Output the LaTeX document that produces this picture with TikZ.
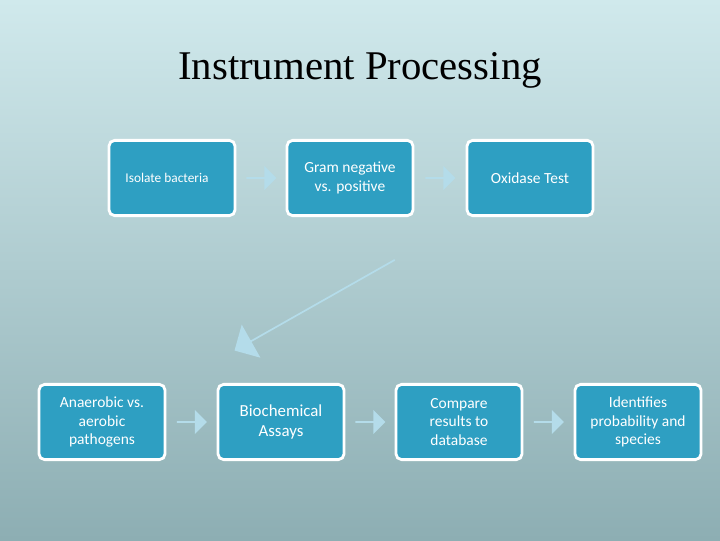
\documentclass[tikz,border=0pt]{standalone}
\usepackage{fontspec}
\setmainfont{Carlito}
\newfontfamily\titlefont{Liberation Serif}
\usetikzlibrary{shapes.arrows,calc}
\definecolor{boxblue}{HTML}{2E9FC2}
\definecolor{arrowblue}{HTML}{B4DCEA}
\definecolor{bgtop}{HTML}{D0E9EC}
\definecolor{bgbottom}{HTML}{8DAEB3}
\begin{document}
\begin{tikzpicture}[x=0.025cm, y=-0.025cm,
    stepbox/.style={
        rectangle,
        rounded corners=4pt,
        draw=white,
        line width=2pt,
        fill=boxblue,
        text=white,
        align=center,
        minimum width=3.15cm,
        minimum height=1.88cm,
        font=\fontsize{11}{13}\selectfont
    },
    flowarrow/.style={
        single arrow,
        fill=arrowblue,
        draw=none,
        minimum height=0.75cm,
        minimum width=0.6cm,
        single arrow head extend=0.1cm,
        inner sep=0pt
    }]
    \shade[top color=bgtop, bottom color=bgbottom] (0,0) rectangle (720,540);
    \node (title) at (360,70) {\titlefont\fontsize{29}{32}\selectfont Instrument Processing};
    % top row
    \node (isolate) [stepbox, font=\fontsize{9.5}{12}\selectfont] at (172,178) {Isolate bacteria\hspace{0.25cm}};
    \node (gram) [stepbox] at (350,178) {Gram negative\\vs. positive};
    \node (oxidase) [stepbox] at (530,178) {Oxidase Test};
    % bottom row
    \node (anaerobic) [stepbox] at (102,422) {Anaerobic vs.\\aerobic\\pathogens};
    \node (biochem) [stepbox, font=\fontsize{12}{14}\selectfont] at (281,422) {Biochemical\\Assays};
    \node (compare) [stepbox] at (459,422) {Compare\\results to\\database};
    \node (identifies) [stepbox] at (638,422) {Identifies\\probability and\\species};
    % arrows
    \node (arrow_a) [flowarrow] at ($(isolate.east)!0.5!(gram.west)$) {};
    \node (arrow_b) [flowarrow] at ($(gram.east)!0.5!(oxidase.west)$) {};
    \node (arrow_c) [flowarrow] at ($(anaerobic.east)!0.5!(biochem.west)$) {};
    \node (arrow_d) [flowarrow] at ($(biochem.east)!0.5!(compare.west)$) {};
    \node (arrow_e) [flowarrow] at ($(compare.east)!0.5!(identifies.west)$) {};
    \node (arrow_down) [flowarrow, minimum height=4.6cm, minimum width=0.95cm,
        single arrow head extend=0.15cm, rotate=-150.5] at (315,305) {};
\end{tikzpicture}
\end{document}
